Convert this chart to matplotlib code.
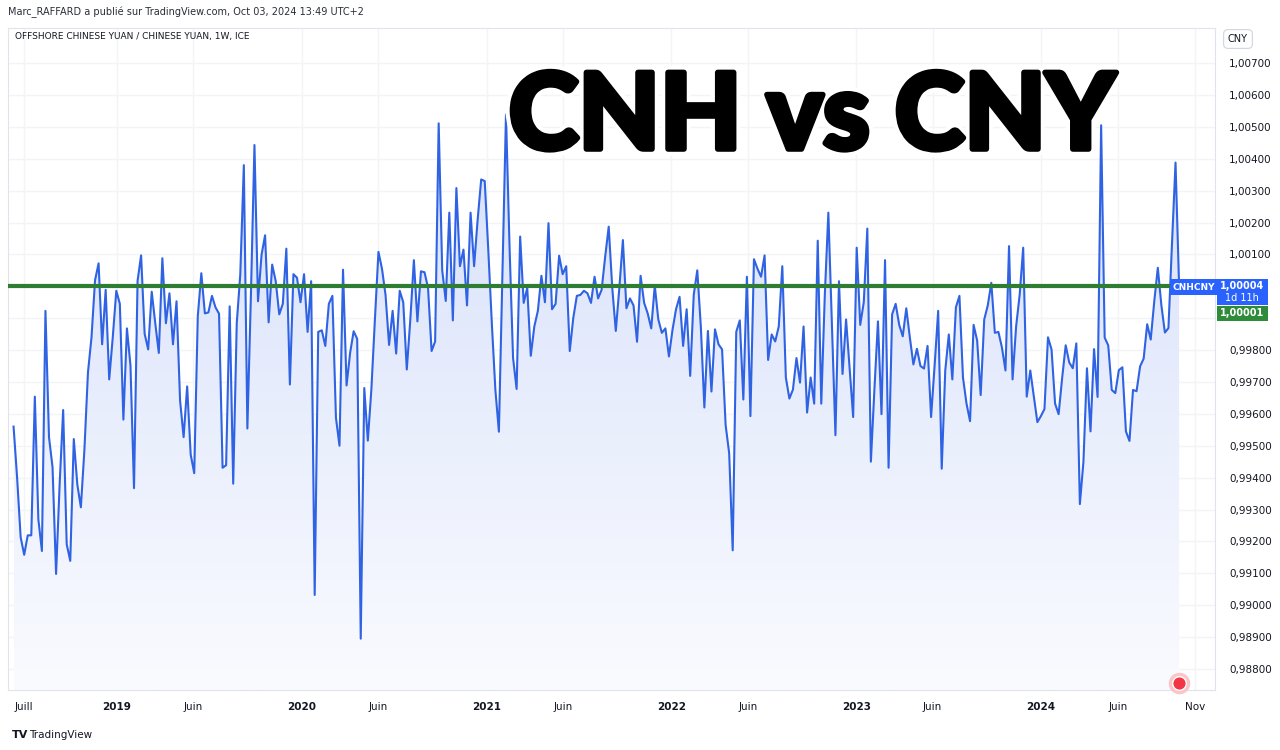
import matplotlib.pyplot as plt
import matplotlib.dates as mdates
import matplotlib.patheffects as pe
import matplotlib.transforms as mtransforms
from matplotlib.colors import LinearSegmentedColormap
from matplotlib.patches import Rectangle
import numpy as np
import pandas as pd

# weekly closes CNH/CNY (Jun 2018 -> Sep 2024)
cnhcny = [
    0.99560, 0.99400, 0.99213, 0.99158, 0.99219, 0.99219, 0.99654, 0.99269, 0.99170, 0.99923,
    0.99527, 0.99433, 0.99098, 0.99378, 0.99612, 0.99191, 0.99139, 0.99521, 0.99378, 0.99307,
    0.99488, 0.99730, 0.99840, 1.00019, 1.00072, 0.99818, 0.99989, 0.99708,
    0.99840, 0.99986, 0.99945, 0.99582, 0.99868, 0.99752, 0.99367, 1.00017, 1.00097, 0.99851,
    0.99802, 0.99983, 0.99884, 0.99791, 1.00088, 0.99884, 0.99978, 0.99818, 0.99953, 0.99642,
    0.99527, 0.99686, 0.99472, 0.99414, 0.99906, 1.00041,
    0.99915, 0.99918, 0.99970, 0.99934, 0.99914, 0.99431, 0.99439, 0.99937, 0.99381, 0.99884,
    1.00038, 1.00380, 0.99554, 0.99973, 1.00443, 0.99953, 1.00099, 1.00160, 0.99887, 1.00068,
    1.00016, 0.99912, 0.99945, 1.00118, 0.99692, 1.00038, 1.00027,
    0.99950, 1.00038, 0.99857, 1.00016, 0.99032, 0.99857, 0.99862, 0.99813, 0.99945, 0.99970,
    0.99588, 0.99500, 1.00052, 0.99689, 0.99791, 0.99859, 0.99835, 0.98895, 0.99681, 0.99516,
    0.99676, 0.99896, 1.00108, 1.00055, 0.99973, 0.99816, 0.99923,
    0.99789, 0.99986, 0.99950, 0.99739, 0.99896, 1.00082, 0.99890, 1.00047, 1.00044, 0.99995,
    0.99797, 0.99827, 1.00511, 1.00050, 0.99954, 1.00231, 0.99893, 1.00308, 1.00063, 1.00115,
    0.99940, 1.00231, 1.00063, 1.00209, 1.00335, 1.00330,
    1.00115, 0.99885, 0.99676, 0.99544, 1.00038, 1.00539, 1.00126, 0.99775, 0.99678, 1.00156,
    0.99948, 0.99995, 0.99782, 0.99874, 0.99923, 1.00033, 0.99950, 1.00198, 0.99928, 0.99945,
    1.00096, 1.00038, 1.00063, 0.99797, 0.99901, 0.99970, 0.99973,
    0.99986, 0.99978, 0.99948, 1.00030, 0.99962, 0.99989, 1.00093, 1.00187, 0.99995, 0.99860,
    0.99995, 1.00145, 0.99931, 0.99962, 0.99940, 0.99826, 1.00033, 0.99948, 0.99915, 0.99868,
    1.00002, 0.99896, 0.99854, 0.99868, 0.99780, 0.99863, 0.99928,
    0.99967, 0.99813, 0.99928, 0.99719, 0.99973, 1.00050, 0.99874, 0.99620, 0.99860, 0.99670,
    0.99865, 0.99818, 0.99802, 0.99565, 0.99477, 0.99172, 0.99857, 0.99893, 0.99645, 1.00030,
    0.99593, 1.00085, 1.00055, 1.00030, 1.00097, 0.99769,
    0.99849, 0.99827, 0.99874, 1.00063, 0.99714, 0.99648, 0.99676, 0.99775, 0.99698, 0.99874,
    0.99604, 0.99714, 0.99632, 1.00143, 0.99632, 0.99973, 1.00231, 0.99885, 0.99533, 1.00016,
    0.99725, 0.99896, 0.99742, 0.99590, 1.00121, 0.99879, 0.99950,
    1.00181, 0.99450, 0.99676, 0.99890, 0.99599, 1.00082, 0.99431, 0.99912, 0.99945, 0.99879,
    0.99843, 0.99931, 0.99840, 0.99755, 0.99804, 0.99750, 0.99742, 0.99813, 0.99590, 0.99752,
    0.99923, 0.99428, 0.99736, 0.99849, 0.99708, 0.99934, 0.99970,
    0.99714, 0.99632, 0.99577, 0.99879, 0.99830, 0.99659, 0.99896, 0.99940, 1.00011, 0.99854,
    0.99857, 0.99808, 0.99736, 1.00126, 0.99708, 0.99874, 0.99973, 1.00121, 0.99654, 0.99736,
    0.99654, 0.99574, 0.99593, 0.99615, 0.99840, 0.99802, 0.99632,
    0.99599, 0.99713, 0.99815, 0.99761, 0.99743, 0.99821, 0.99317, 0.99449, 0.99743, 0.99545,
    0.99803, 0.99653, 1.00505, 0.99839, 0.99815, 0.99675, 0.99665, 0.99737, 0.99746, 0.99545,
    0.99515, 0.99675, 0.99671, 0.99749, 0.99773, 0.99881, 0.99833, 0.99953, 1.00058, 0.99941,
    0.99855, 0.99869, 1.00133, 1.00388, 1.00004,
]
last_week = "2024-09-30"
support = 1.00001

price_ticks = [0.988, 0.989, 0.990, 0.991, 0.992, 0.993, 0.994, 0.995, 0.996, 0.997,
               0.998, 0.999, 1.000, 1.001, 1.002, 1.003, 1.004, 1.005, 1.006, 1.007]
hidden_ticks = [0.999, 1.000]   # covered by the price boxes on the scale
month_ticks = ["2018-07-01", "2019-01-01", "2019-06-01", "2020-01-01", "2020-06-01",
               "2021-01-01", "2021-06-01", "2022-01-01", "2022-06-01", "2023-01-01",
               "2023-06-01", "2024-01-01", "2024-06-01", "2024-11-01"]
month_labels = ["Juill", "2019", "Juin", "2020", "Juin", "2021", "Juin", "2022", "Juin",
                "2023", "Juin", "2024", "Juin", "Nov"]

weeks = pd.date_range(end=last_week, periods=len(cnhcny), freq="W-MON")

W, H = 1280, 750
def fx(px):
    return px / W
def fy(py):
    return 1 - py / H

fig = plt.figure(figsize=(12.8, 7.5), dpi=100)
fig.patch.set_facecolor("white")
ax = fig.add_axes([fx(8), fy(690), fx(1215) - fx(8), fy(28) - fy(690)])

ymin, ymax = 0.98734, 1.00810
xmin, xmax = pd.Timestamp("2018-05-31"), pd.Timestamp("2024-12-10")

ax.plot(weeks, cnhcny, color="#2f63e3", lw=1.5, zorder=4)

# gradient fill under the line
poly = ax.fill_between(weeks, cnhcny, ymin, facecolor="none", edgecolor="none")
xn = mdates.date2num(weeks)
fade = LinearSegmentedColormap.from_list("fade", ["#fafbff", "#d6e0fa"])
im = ax.imshow(np.linspace(0, 1, 256).reshape(-1, 1), cmap=fade, aspect="auto",
               origin="lower", extent=[xn[0], xn[-1], ymin, max(cnhcny)], zorder=2)
im.set_clip_path(poly.get_paths()[0], transform=ax.transData)

ax.axhline(support, color="#2e7d32", lw=3, zorder=5)

ax.set_xlim(xmin, xmax)
ax.set_ylim(ymin, ymax)

ax.grid(color="#f3f4f8", lw=1, zorder=0)
ax.set_axisbelow(True)
for s in ax.spines.values():
    s.set_color("#e0e3eb")

ax.yaxis.tick_right()
ax.set_yticks(price_ticks)
ax.set_yticklabels(["" if v in hidden_ticks else f"{v:.5f}".replace(".", ",") for v in price_ticks])
ax.tick_params(axis="y", length=0, pad=10, labelsize=7.5, labelcolor="#131722")

ax.set_xticks(pd.to_datetime(month_ticks))
ax.set_xticklabels(month_labels)
ax.tick_params(axis="x", length=0, pad=9, labelsize=7.5, labelcolor="#131722")
for t in ax.get_xticklabels():
    if t.get_text().isdigit():
        t.set_fontweight("bold")

# red event marker at the bottom
blend = mtransforms.blended_transform_factory(ax.transData, ax.transAxes)
ax.scatter([xn[-1]], [0.0106], s=210, color="#f9c6ca", transform=blend, zorder=6, clip_on=False)
ax.scatter([xn[-1]], [0.0106], s=95, color="#f23645", edgecolor="white", lw=1,
           transform=blend, zorder=7, clip_on=False)

# header texts
fig.text(fx(8), fy(12), "Marc_RAFFARD a publié sur TradingView.com, Oct 03, 2024 13:49 UTC+2",
         fontsize=7, color="#2a2e39", va="center")
fig.text(fx(15), fy(37), "OFFSHORE CHINESE YUAN / CHINESE YUAN, 1W, ICE",
         fontsize=6.5, color="#131722", va="center")
fig.text(fx(1238), fy(39), "CNY", fontsize=7, color="#131722", ha="center", va="center",
         bbox=dict(boxstyle="round,pad=0.45", fc="white", ec="#d1d4dc", lw=0.8))

# big title
fig.text(fx(812), fy(118), "CNH vs CNY", fontsize=76, fontweight="black", family=["Lato", "DejaVu Sans"],
         color="black", ha="center", va="center",
         path_effects=[pe.withStroke(linewidth=10, foreground="white"),
                       pe.withStroke(linewidth=4, foreground="black")])

# right side labels
fig.text(fx(1194), fy(287), "CNHCNY", fontsize=6.5, color="white", fontweight="bold",
         ha="center", va="center",
         bbox=dict(boxstyle="square,pad=0.35", fc="#2962ff", ec="none"))
fig.add_artist(Rectangle((fx(1217), fy(305)), fx(51), fy(279) - fy(305),
                         transform=fig.transFigure, fc="#2962ff", ec="none", zorder=5))
fig.text(fx(1242), fy(286), f"{cnhcny[-1]:.5f}".replace(".", ","), fontsize=7, color="white",
         fontweight="bold", ha="center", va="center", zorder=6)
fig.text(fx(1242), fy(298), "1d 11h", fontsize=7, color="white", ha="center", va="center", zorder=6)
fig.add_artist(Rectangle((fx(1217), fy(321)), fx(51), fy(306) - fy(321),
                         transform=fig.transFigure, fc="#2e8b3a", ec="none", zorder=5))
fig.text(fx(1242), fy(313.5), f"{support:.5f}".replace(".", ","), fontsize=7, color="white",
         fontweight="bold", ha="center", va="center", zorder=6)

# footer
fig.text(fx(12), fy(735), "TV", fontsize=8, fontweight="black", color="#131722", va="center")
fig.text(fx(29), fy(735), "TradingView", fontsize=7.5, color="#131722", va="center")

fig.savefig("out.png", dpi=100)
